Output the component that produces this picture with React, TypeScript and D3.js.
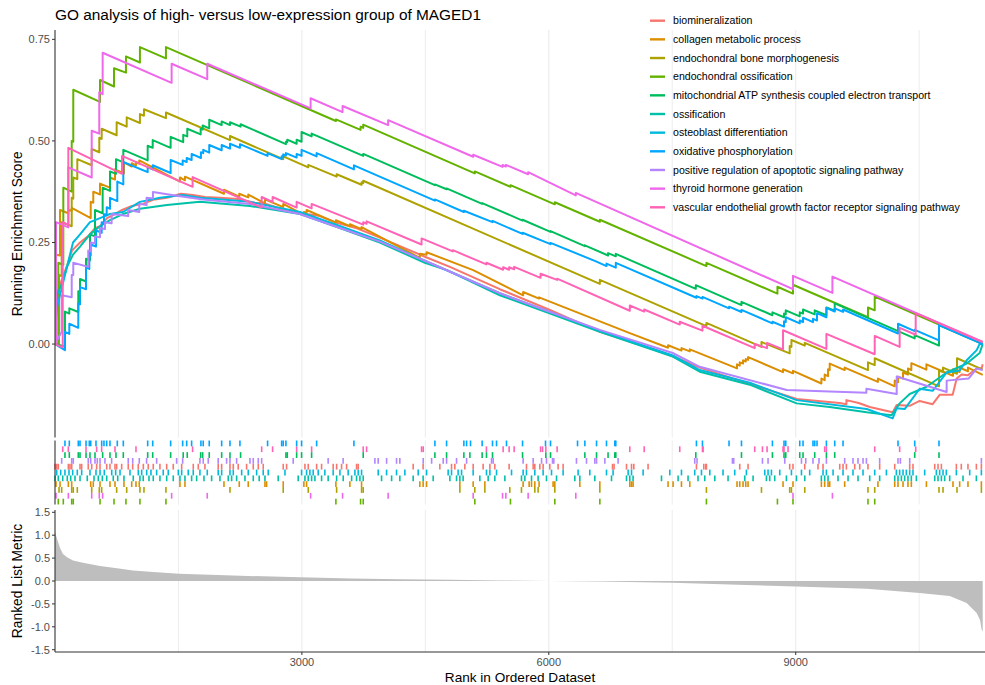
import React, { useEffect } from "react";
import * as d3 from "d3";

type Pt = [number, number];

const TITLE = "GO analysis of high- versus low-expression group of MAGED1";
const N_TOTAL = 11300;

const setNames = [
  "biomineralization",
  "collagen metabolic process",
  "endochondral bone morphogenesis",
  "endochondral ossification",
  "mitochondrial ATP synthesis coupled electron transport",
  "ossification",
  "osteoblast differentiation",
  "oxidative phosphorylation",
  "positive regulation of apoptotic signaling pathway",
  "thyroid hormone generation",
  "vascular endothelial growth factor receptor signaling pathway",
];
const setColors = ["#F8766D", "#DB8E00", "#AEA200", "#64B200", "#00BD5C", "#00C1A7", "#00BADE", "#00A6FF", "#B385FF", "#EF67EB", "#FF63B6"];

// rug rows, bottom to top (index into setNames)
const rugRowOrder = [3, 9, 2, 1, 5, 6, 0, 8, 4, 10, 7];

// running enrichment score: [rank, ES]
const esBiomin: Pt[] = [[0,0.02],[12,0.10],[36,0.13],[85,0.16],[158,0.20],[206,0.23],[304,0.25],[400,0.265],[486,0.285],[547,0.29],[632,0.31],[729,0.32],[814,0.33],[935,0.34],[1069,0.345],[1190,0.355],[1360,0.36],[1530,0.37],[1676,0.367],[1822,0.362],[2004,0.36],[2223,0.357],[2429,0.348],[2526,0.347],[2794,0.33],[3000,0.322],[3219,0.315],[3401,0.30],[3668,0.285],[3947,0.262],[4494,0.215],[4798,0.19],[5405,0.135],[6000,0.085],[6620,0.03],[7227,-0.01],[7506,-0.03],[7834,-0.058],[8320,-0.09],[9012,-0.135],[9534,-0.145],[9616,-0.148],[9616,-0.138],[9765,-0.145],[9900,-0.155],[10178,-0.168],[10227,-0.15],[10385,-0.152],[10506,-0.14],[10664,-0.148],[10749,-0.125],[10907,-0.125],[10956,-0.085],[11016,-0.075],[11090,-0.077],[11199,-0.06],[11259,-0.06],[11272,-0.05]];
const esCollagen: Pt[] = [[0,0],[12,0],[12,0.22],[61,0.218],[61,0.33],[162,0.322],[162,0.33],[203,0.328],[203,0.335],[434,0.31],[434,0.35],[465,0.348],[465,0.375],[547,0.368],[547,0.395],[668,0.385],[668,0.41],[729,0.405],[729,0.43],[838,0.42],[838,0.447],[932,0.437],[932,0.445],[984,0.44],[984,0.448],[1024,0.444],[1024,0.452],[1518,0.40],[1518,0.41],[1579,0.403],[1579,0.412],[2053,0.37],[2053,0.38],[2239,0.363],[2239,0.37],[2348,0.361],[2348,0.368],[2551,0.346],[2551,0.356],[2773,0.337],[2773,0.345],[3024,0.318],[3024,0.325],[3057,0.322],[3057,0.33],[3413,0.299],[3413,0.305],[3583,0.29],[3583,0.295],[3725,0.283],[3725,0.288],[4433,0.212],[4433,0.222],[4515,0.22],[4515,0.226],[5081,0.182],[5688,0.12],[5688,0.128],[5882,0.112],[5882,0.115],[6984,0.027],[7449,-0.009],[7449,-0.003],[7612,-0.016],[7612,-0.01],[7713,-0.018],[7713,-0.013],[7834,-0.023],[8287,-0.06],[8287,-0.05],[8320,-0.053],[8320,-0.045],[8360,-0.048],[8360,-0.04],[8393,-0.043],[8393,-0.037],[8421,-0.039],[8421,-0.032],[8846,-0.069],[8846,-0.062],[8967,-0.072],[8967,-0.066],[9312,-0.097],[9312,-0.085],[9352,-0.089],[9352,-0.075],[9393,-0.079],[9393,-0.062],[9413,-0.064],[9413,-0.048],[9595,-0.064],[9595,-0.058],[9999,-0.093],[9999,-0.085],[10203,-0.104],[10203,-0.09],[10243,-0.094],[10243,-0.08],[10304,-0.085],[10304,-0.07],[10364,-0.075],[10364,-0.06],[10405,-0.064],[10405,-0.047],[10588,-0.063],[10588,-0.05],[10911,-0.078],[10911,-0.062],[10992,-0.069],[10992,-0.058],[11093,-0.067],[11093,-0.058],[11272,-0.076]];
const esBoneMorph: Pt[] = [[0,0],[49,0],[49,0.17],[81,0.167],[81,0.30],[203,0.29],[203,0.36],[222,0.358],[222,0.41],[271,0.406],[271,0.455],[446,0.44],[446,0.48],[538,0.472],[538,0.508],[567,0.505],[567,0.53],[749,0.514],[749,0.546],[871,0.535],[871,0.558],[1032,0.544],[1032,0.566],[1081,0.562],[1081,0.578],[1348,0.556],[1348,0.570],[2126,0.502],[2126,0.512],[2773,0.455],[2773,0.462],[3077,0.435],[3077,0.441],[3422,0.412],[3422,0.418],[3725,0.392],[3725,0.398],[3745,0.396],[3745,0.402],[6620,0.148],[6620,0.158],[7915,0.044],[7915,0.052],[8584,-0.007],[8584,0.005],[8927,-0.023],[8927,-0.005],[8948,-0.007],[8948,0.01],[9110,-0.004],[9110,0.003],[9878,-0.064],[9878,-0.045],[9960,-0.052],[9960,-0.035],[10741,-0.104],[10741,-0.065],[10790,-0.069],[10790,-0.058],[10960,-0.073],[10960,-0.035],[11272,-0.063]];
const esEndoOss: Pt[] = [[0,0],[40,0],[40,0.2],[101,0.195],[101,0.385],[203,0.375],[203,0.50],[222,0.498],[222,0.626],[547,0.596],[547,0.65],[717,0.634],[717,0.679],[862,0.668],[862,0.708],[1032,0.693],[1032,0.731],[1348,0.703],[1348,0.731],[3413,0.549],[3413,0.553],[3713,0.527],[3713,0.535],[3745,0.532],[3745,0.54],[5101,0.42],[5101,0.425],[5534,0.387],[5534,0.391],[6073,0.344],[6073,0.349],[6620,0.301],[6620,0.306],[7915,0.192],[7915,0.2],[8778,0.124],[8778,0.141],[8967,0.124],[8967,0.146],[9878,0.066],[9878,0.09],[9960,0.083],[9960,0.117],[11272,0.001]];
const esMito: Pt[] = [[0,0],[121,-0.006],[121,0.08],[174,0.075],[174,0.088],[283,0.079],[283,0.13],[304,0.128],[304,0.16],[377,0.154],[377,0.21],[425,0.206],[425,0.27],[486,0.265],[486,0.33],[579,0.322],[579,0.385],[668,0.377],[668,0.425],[741,0.419],[741,0.455],[830,0.447],[830,0.478],[1126,0.452],[1126,0.488],[1187,0.483],[1187,0.502],[1405,0.483],[1405,0.51],[1558,0.497],[1558,0.515],[1607,0.511],[1607,0.53],[1770,0.516],[1770,0.53],[1794,0.528],[1794,0.538],[1874,0.531],[1874,0.552],[2025,0.539],[2025,0.548],[2126,0.539],[2126,0.546],[2255,0.535],[2255,0.541],[2806,0.492],[2806,0.498],[2822,0.497],[2822,0.503],[2936,0.493],[2936,0.503],[2996,0.498],[2996,0.522],[3118,0.511],[3118,0.518],[3745,0.463],[3745,0.468],[4616,0.391],[4616,0.393],[4758,0.381],[4758,0.383],[5190,0.345],[5190,0.347],[5681,0.304],[5681,0.306],[6021,0.276],[6021,0.278],[6438,0.241],[6438,0.243],[6720,0.218],[6720,0.224],[6814,0.216],[6814,0.222],[7786,0.136],[7786,0.145],[8341,0.096],[8341,0.104],[8717,0.071],[8717,0.078],[8858,0.066],[8858,0.075],[8879,0.073],[8879,0.083],[9049,0.068],[9049,0.078],[9089,0.075],[9089,0.085],[9231,0.073],[9231,0.083],[9373,0.071],[9373,0.09],[9474,0.082],[9474,0.1],[10446,0.014],[10446,0.022],[10741,-0.004],[10741,0.047],[11272,0.0]];
const esOssification: Pt[] = [[0,0.02],[24,0.12],[85,0.15],[146,0.19],[219,0.22],[304,0.24],[425,0.27],[547,0.29],[668,0.305],[826,0.32],[1032,0.333],[1360,0.342],[1761,0.35],[2368,0.34],[2976,0.32],[3401,0.29],[3947,0.25],[4494,0.2],[4761,0.182],[5405,0.12],[6000,0.076],[6620,0.03],[7506,-0.031],[7834,-0.068],[8441,-0.1],[9012,-0.146],[9413,-0.155],[9863,-0.168],[10166,-0.175],[10263,-0.146],[10385,-0.123],[10591,-0.105],[10834,-0.07],[11077,-0.048],[11235,-0.022],[11272,0]];
const esOsteoblast: Pt[] = [[0,0.02],[24,0.09],[61,0.12],[121,0.17],[219,0.25],[304,0.27],[425,0.30],[547,0.31],[668,0.32],[826,0.325],[1032,0.35],[1275,0.36],[1555,0.367],[1761,0.36],[2368,0.35],[2976,0.325],[3401,0.295],[3947,0.255],[4494,0.205],[5405,0.125],[6000,0.08],[6620,0.033],[7506,-0.028],[7834,-0.064],[8441,-0.095],[9012,-0.138],[9863,-0.16],[10178,-0.183],[10227,-0.158],[10324,-0.16],[10506,-0.11],[10664,-0.115],[10834,-0.07],[10992,-0.065],[11077,-0.04],[11199,-0.015],[11235,0.0],[11272,0.0]];
const esOxphos: Pt[] = [[0,0],[121,-0.015],[121,0.03],[174,0.025],[174,0.05],[283,0.04],[283,0.1],[304,0.098],[304,0.14],[377,0.135],[377,0.19],[417,0.185],[417,0.22],[434,0.218],[434,0.245],[498,0.24],[498,0.28],[567,0.274],[567,0.30],[595,0.297],[595,0.32],[628,0.317],[628,0.337],[668,0.333],[668,0.36],[757,0.352],[757,0.40],[830,0.393],[830,0.448],[1126,0.423],[1126,0.435],[1187,0.43],[1187,0.44],[1405,0.421],[1405,0.453],[1551,0.441],[1551,0.452],[1600,0.448],[1600,0.458],[1660,0.453],[1660,0.468],[1773,0.458],[1773,0.472],[1801,0.47],[1801,0.478],[1874,0.471],[1874,0.49],[2025,0.477],[2025,0.49],[2126,0.481],[2126,0.493],[2247,0.483],[2247,0.492],[2583,0.463],[2583,0.47],[2754,0.455],[2754,0.462],[2773,0.46],[2773,0.467],[2806,0.464],[2806,0.47],[2936,0.459],[2936,0.468],[2996,0.463],[2996,0.478],[3179,0.462],[3179,0.47],[3632,0.43],[3632,0.44],[4616,0.353],[4616,0.356],[4968,0.325],[4968,0.328],[5316,0.30],[5316,0.303],[5681,0.271],[5681,0.274],[6021,0.246],[6021,0.249],[6580,0.203],[6701,0.192],[6701,0.198],[6814,0.188],[6814,0.2],[7794,0.114],[7794,0.118],[7867,0.112],[7867,0.116],[8190,0.088],[8190,0.092],[8341,0.079],[8341,0.084],[8717,0.051],[8717,0.055],[8858,0.043],[8858,0.056],[8879,0.054],[8879,0.066],[9049,0.051],[9049,0.058],[9089,0.054],[9089,0.065],[9210,0.054],[9210,0.062],[9259,0.058],[9259,0.076],[9373,0.066],[9373,0.089],[9474,0.08],[9474,0.088],[9575,0.079],[9575,0.085],[10243,0.026],[10243,0.05],[10446,0.032],[10446,0.035],[10741,0.009],[10741,0.047],[11272,0]];
const esApoptotic: Pt[] = [[0,0],[81,0.03],[81,0.12],[203,0.115],[203,0.17],[222,0.17],[222,0.2],[404,0.19],[404,0.23],[434,0.228],[434,0.25],[486,0.248],[486,0.265],[547,0.263],[547,0.285],[607,0.283],[607,0.30],[688,0.297],[688,0.32],[890,0.315],[890,0.33],[1024,0.325],[1024,0.345],[1113,0.342],[1113,0.36],[1190,0.358],[1190,0.374],[1478,0.365],[1801,0.356],[2369,0.345],[2976,0.32],[3401,0.29],[3947,0.252],[4494,0.205],[5405,0.125],[6000,0.08],[6620,0.035],[7506,-0.022],[7834,-0.056],[8890,-0.113],[9413,-0.117],[9859,-0.12],[9859,-0.11],[10227,-0.123],[10227,-0.08],[10834,-0.118],[10834,-0.09],[11101,-0.085],[11200,-0.06],[11272,-0.064]];
const esThyroid: Pt[] = [[0,0],[12,0],[12,0.30],[162,0.287],[162,0.435],[446,0.41],[446,0.525],[538,0.518],[538,0.62],[579,0.615],[579,0.717],[1417,0.643],[1417,0.69],[1850,0.652],[1850,0.69],[3106,0.58],[3106,0.605],[3494,0.571],[3494,0.586],[4048,0.539],[4048,0.551],[5081,0.461],[5081,0.466],[5438,0.436],[5438,0.441],[5478,0.437],[5478,0.441],[5749,0.418],[5749,0.423],[6328,0.366],[6328,0.372],[8967,0.135],[8967,0.168],[9446,0.126],[9446,0.166],[11272,0.005]];
const esVascular: Pt[] = [[0,0],[94,-0.008],[94,0.30],[162,0.293],[162,0.483],[814,0.419],[814,0.463],[1672,0.387],[1672,0.411],[2511,0.336],[2511,0.362],[2644,0.35],[2644,0.362],[2936,0.336],[2936,0.35],[3118,0.334],[3118,0.345],[3745,0.294],[3745,0.3],[3786,0.296],[3786,0.302],[4454,0.245],[4454,0.26],[4834,0.228],[4834,0.231],[5242,0.196],[5242,0.2],[5445,0.183],[5445,0.189],[5518,0.183],[5518,0.189],[5579,0.184],[5579,0.19],[5900,0.163],[5900,0.173],[6101,0.158],[6101,0.161],[6984,0.082],[6984,0.095],[7159,0.08],[7159,0.085],[7591,0.048],[7591,0.055],[7867,0.033],[7867,0.045],[8502,-0.01],[8502,0.0],[8652,-0.01],[8652,0.003],[8846,-0.013],[8846,0.034],[9373,-0.012],[9373,0.025],[9960,-0.025],[9960,0.02],[10263,-0.007],[10263,0.04],[10458,0.023],[10458,0.076],[11272,0.005]];

// gene set hit positions (ranks)
const hitsBiomin = [0,21,40,162,182,203,304,324,404,446,506,547,628,668,729,749,810,890,944,1012,1073,1133,1194,1275,1357,1437,1539,1680,1741,1822,1983,2025,2126,2166,2226,2328,2409,2470,2530,2773,2814,3037,3077,3179,3239,3380,3422,3482,3543,3664,3684,4352,4473,4676,4818,4858,4980,5081,5202,5284,5344,5518,5729,5810,5830,5891,5931,6012,6113,6174,6774,6793,6944,7005,7033,7206,7794,7883,7907,7915,8320,8421,8927,8967,9110,9271,9332,9535,9575,9616,9717,9778,9878,10020,10203,10385,10425,10689,10729,10770,10952,11012,11093,11195,11256];
const hitsCollagen = [12,61,162,203,434,465,547,668,729,838,932,984,1024,1518,1579,2053,2239,2348,2551,2571,2773,3024,3057,3413,3583,3725,4433,4473,4515,4919,5081,5223,5688,5761,5790,5830,5882,6052,6073,6377,6620,6984,7005,7024,7449,7510,7612,7713,8287,8320,8360,8393,8421,8846,8967,9312,9352,9393,9413,9595,9999,10203,10243,10304,10364,10405,10588,10911,10992,11093,11256];
const hitsBoneMorph = [49,81,203,222,271,446,538,567,749,871,1032,1081,1348,2126,2773,3077,3422,3725,3745,4919,5101,5223,5526,5668,5830,5870,6073,6620,7915,8584,8927,8948,9110,9878,9960,10741,10790,10960,11256];
const hitsEndoOss = [40,101,203,222,547,717,862,1032,1348,3413,3713,3745,5101,5534,6073,6620,7915,8778,8967,9878,9960];
const hitsMito = [121,174,283,304,377,425,486,579,668,741,830,1126,1187,1405,1558,1607,1770,1794,1874,2025,2126,2255,2806,2822,2936,2996,3118,3745,4616,4758,4968,5041,5190,5243,5316,5681,5964,6021,6438,6580,6720,6802,6814,7786,8341,8717,8858,8879,9049,9089,9231,9373,9474,10446,10741];
const hitsOssification = [0,40,94,149,191,243,304,392,474,526,575,628,708,762,838,951,1032,1072,1142,1194,1275,1357,1437,1518,1579,1660,1721,1810,1903,2004,2105,2146,2207,2308,2409,2481,2551,2712,2955,3037,3077,3118,3158,3239,3319,3422,3502,3604,3664,3705,3745,3968,4090,4190,4352,4473,4595,4798,4879,4919,4959,5162,5263,5344,5466,5668,5709,5790,5870,5972,6094,6316,6377,6559,6762,6944,6984,7024,7369,7571,7692,7813,7895,8017,8178,8381,8482,8644,8684,8745,8887,9009,9110,9312,9352,9393,9514,9636,9757,9899,10020,10203,10243,10284,10324,10364,10405,10466,10689,10729,10770,10810,10871,11033,11195];
const hitsOsteoblast = [21,69,121,170,215,271,324,425,498,547,599,689,737,790,911,1012,1053,1114,1166,1235,1315,1376,1498,1539,1619,1680,1761,1850,1983,2025,2126,2166,2268,2348,2450,2530,2591,2794,2996,3057,3097,3137,3198,3279,3380,3462,3562,3644,3684,3725,3927,4029,4150,4251,4413,4515,4777,4818,4898,4940,5081,5243,5284,5365,5547,5688,5729,5830,5931,6033,6174,6356,6498,6701,6781,6964,7005,7146,7470,7612,7773,7855,7956,8117,8259,8401,8624,8664,8705,8806,8948,9070,9170,9332,9373,9454,9575,9696,9818,9960,10102,10223,10263,10304,10344,10385,10425,10567,10709,10749,10790,10830,10952,11114,11256];
const hitsOxphos = [121,174,283,304,377,417,434,498,567,595,628,668,757,830,1126,1187,1405,1551,1600,1660,1773,1801,1874,2025,2126,2247,2583,2754,2773,2806,2936,2996,3179,3632,4616,4758,4968,5001,5049,5190,5316,5365,5486,5681,5960,6021,6349,6438,6580,6701,6802,6814,7794,7867,8190,8341,8717,8858,8879,9049,9089,9210,9231,9259,9373,9474,9575,10243,10446,10741];
const hitsApoptotic = [81,203,222,404,434,486,514,547,607,688,890,944,1024,1113,1235,1478,1551,1761,1801,1862,1983,2085,2126,2207,2369,2409,2470,2511,2894,3319,3501,3887,3927,4029,4150,4190,4474,4576,4717,4758,4879,5001,5304,5324,5688,5810,5912,5972,6045,6061,6336,6458,6559,6580,6681,6842,7773,7801,8231,8247,8596,8664,8867,9070,9122,9210,9283,9373,9595,9696,9757,9818,9859,10020,10243,10272,10385,11256];
const hitsThyroid = [12,162,446,538,579,1417,1850,3106,3494,4048,5081,5438,5478,5749,6328,8967,9446];
const hitsVascular = [94,162,377,506,567,729,984,1672,2511,2644,2936,3118,3745,3786,4454,4474,5242,5445,5518,5579,5900,5924,5964,6101,6984,7159,7591,7867,7875,8502,8596,8652,8846,8858,8907,9352,9373,9960,10263,10458];

const esCurves = [esBiomin, esCollagen, esBoneMorph, esEndoOss, esMito, esOssification, esOsteoblast, esOxphos, esApoptotic, esThyroid, esVascular];
const hitLists = [hitsBiomin, hitsCollagen, hitsBoneMorph, hitsEndoOss, hitsMito, hitsOssification, hitsOsteoblast, hitsOxphos, hitsApoptotic, hitsThyroid, hitsVascular];

// ranked list metric
const metricRanks = [0, 20, 61, 97, 146, 219, 340, 547, 753, 947, 1154, 1506, 2162, 2976, 3600, 4190, 4800, 5405, 6012, 6620, 7506, 8300, 9000, 9863, 10506, 10871, 11077, 11199, 11240, 11259, 11272];
const metricValues = [1.08, 0.95, 0.72, 0.59, 0.52, 0.45, 0.40, 0.33, 0.28, 0.23, 0.20, 0.16, 0.12, 0.08, 0.055, 0.04, 0.025, 0.012, 0.0, -0.01, -0.04, -0.08, -0.12, -0.17, -0.26, -0.33, -0.48, -0.70, -0.85, -1.06, -1.1];

const esTicks = [0, 0.25, 0.5, 0.75];
const metricTicks = [-1.5, -1, -0.5, 0, 0.5, 1, 1.5];
const rankTicks = [3000, 6000, 9000];
const gridRanks = [1500, 3000, 4500, 6000, 7500, 9000, 10500];

const FONT = "'Liberation Sans', Arial, Helvetica, sans-serif";

export default function App() {
  useEffect(() => {
    document.body.style.margin = "0";
  }, []);

  const W = 985, H = 685;
  const L = 55, R = 985;
  const x = d3.scaleLinear().domain([0, N_TOTAL]).range([L, R]);
  const yES = d3.scaleLinear().domain([-0.23, 0.773]).range([437.5, 30]);
  const yRug = d3.scaleLinear().domain([0, 11]).range([504.5, 440.5]);
  const yM = d3.scaleLinear().domain([-1.55, 1.55]).range([652, 510]);

  const line = d3.line<Pt>().x((d) => x(d[0])).y((d) => yES(d[1]));
  const metricPts = metricRanks.map((r, i) => [r, metricValues[i]] as Pt);
  const area = d3.area<Pt>().x((d) => x(d[0])).y0(yM(0)).y1((d) => yM(d[1]));

  const axisCol = "#333333";
  const tickTextCol = "#4D4D4D";
  const gridCol = "#EBEBEB";

  const panels = [
    [yES.range()[1], yES.range()[0]],
    [yRug.range()[1], yRug.range()[0]],
    [yM.range()[1], yM.range()[0]],
  ];

  return (
    <svg width={W} height={H} style={{ display: "block", background: "#fff" }} fontFamily={FONT}>
      <defs>
        <clipPath id="esclip">
          <rect x={L} y={30} width={R - L} height={407.5} />
        </clipPath>
      </defs>
      {panels.map((p, pi) =>
        gridRanks.map((g) => (
          <line key={`g${pi}-${g}`} x1={x(g)} x2={x(g)} y1={p[0]} y2={p[1]} stroke={gridCol} strokeWidth={g % 3000 === 0 ? 1.1 : 0.9} />
        ))
      )}

      <text x={L} y={20} fontSize={15.4} fill="#000">{TITLE}</text>

      <g clipPath="url(#esclip)">
        {esCurves.map((c, i) => (
          <path key={`es${i}`} d={line(c) || ""} fill="none" stroke={setColors[i]} strokeWidth={2} strokeLinejoin="round" />
        ))}
      </g>

      {setNames.map((n, i) => {
        const ly = 20.7 + i * 18.66;
        return (
          <g key={`lg${i}`}>
            <line x1={650} x2={665} y1={ly} y2={ly} stroke={setColors[i]} strokeWidth={2.4} />
            <text x={673} y={ly} dy="0.35em" fontSize={10.6} fill="#000">{n}</text>
          </g>
        );
      })}

      <line x1={L} x2={L} y1={30} y2={437.5} stroke={axisCol} strokeWidth={1.1} />
      {esTicks.map((t) => (
        <g key={`et${t}`}>
          <line x1={L - 3} x2={L} y1={yES(t)} y2={yES(t)} stroke={axisCol} strokeWidth={1} />
          <text x={L - 5} y={yES(t)} dy="0.35em" textAnchor="end" fontSize={11} fill={tickTextCol}>{t.toFixed(2)}</text>
        </g>
      ))}
      <text transform={`translate(22,${(30 + 437.5) / 2}) rotate(-90)`} textAnchor="middle" fontSize={13.8} fill="#000">Running Enrichment Score</text>

      {rugRowOrder.map((si, row) =>
        hitLists[si].map((h, k) => (
          <line key={`r${si}-${k}`} x1={x(h)} x2={x(h)} y1={yRug(row)} y2={yRug(row + 1)} stroke={setColors[si]} strokeWidth={1.6} />
        ))
      )}
      <line x1={L} x2={L} y1={440.5} y2={504.5} stroke={axisCol} strokeWidth={1.1} />

      <path d={area(metricPts) || ""} fill="#BEBEBE" stroke="none" />
      <line x1={L} x2={L} y1={510} y2={652} stroke={axisCol} strokeWidth={1.1} />
      <line x1={L} x2={R} y1={652} y2={652} stroke={axisCol} strokeWidth={1.1} />
      {metricTicks.map((t) => (
        <g key={`mt${t}`}>
          <line x1={L - 3} x2={L} y1={yM(t)} y2={yM(t)} stroke={axisCol} strokeWidth={1} />
          <text x={L - 5} y={yM(t)} dy="0.35em" textAnchor="end" fontSize={11} fill={tickTextCol}>{t.toFixed(1)}</text>
        </g>
      ))}
      {rankTicks.map((t) => (
        <g key={`rt${t}`}>
          <line x1={x(t)} x2={x(t)} y1={652} y2={655} stroke={axisCol} strokeWidth={1} />
          <text x={x(t)} y={666} textAnchor="middle" fontSize={11} fill={tickTextCol}>{t}</text>
        </g>
      ))}
      <text transform={`translate(22,${(510 + 652) / 2}) rotate(-90)`} textAnchor="middle" fontSize={13.8} fill="#000">Ranked List Metric</text>
      <text x={(L + R) / 2} y={682} textAnchor="middle" fontSize={13.6} fill="#000">Rank in Ordered Dataset</text>
    </svg>
  );
}
